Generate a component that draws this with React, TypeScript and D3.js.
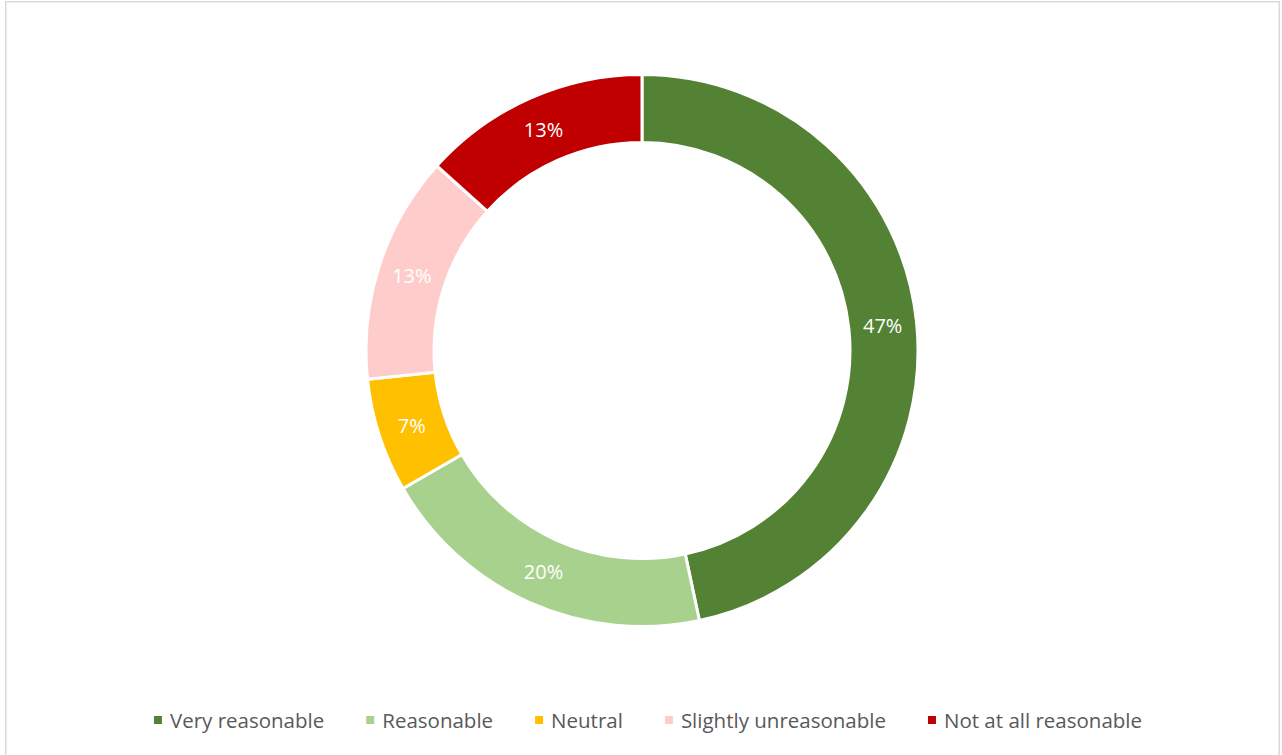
import React, { useEffect, useRef } from "react";
import * as d3 from "d3";

const categories = ["Very reasonable", "Reasonable", "Neutral", "Slightly unreasonable", "Not at all reasonable"];
const values = [7, 3, 1, 2, 2];
const colors = ["#548235", "#A9D18E", "#FFC000", "#FFCCCC", "#C00000"];

const W = 1282;
const H = 755;
const FONT = "'Open Sans', 'Noto Sans', sans-serif";

export default function App() {
  const ref = useRef<SVGSVGElement | null>(null);

  useEffect(() => {
    document.body.style.margin = "0";
    const svg = d3.select(ref.current);
    svg.selectAll("*").remove();

    svg.append("rect")
      .attr("x", 5.75).attr("y", 1.75)
      .attr("width", 1273.5).attr("height", H + 20)
      .attr("fill", "#fff").attr("stroke", "#d9d9d9").attr("stroke-width", 1.5);

    const cx = 642, cy = 350.5;
    const outerR = 276, innerR = 208;
    const total = d3.sum(values);
    const pie = d3.pie<number>().sort(null).value((d) => d).startAngle(0).endAngle(2 * Math.PI);
    const arcs = pie(values);
    const arc = d3.arc<d3.PieArcDatum<number>>().innerRadius(innerR).outerRadius(outerR);

    const g = svg.append("g").attr("transform", `translate(${cx},${cy})`);
    g.selectAll("path.slice").data(arcs).enter().append("path")
      .attr("class", "slice")
      .attr("d", arc as any)
      .attr("fill", (_d, i) => colors[i])
      .attr("stroke", "#fff").attr("stroke-width", 3).attr("stroke-linejoin", "miter");

    const labelArc = d3.arc<d3.PieArcDatum<number>>().innerRadius((innerR + outerR) / 2).outerRadius((innerR + outerR) / 2);
    g.selectAll("text.lbl").data(arcs).enter().append("text")
      .attr("class", "lbl")
      .attr("transform", (d) => `translate(${labelArc.centroid(d)})`)
      .attr("text-anchor", "middle").attr("dominant-baseline", "central")
      .attr("font-family", FONT).attr("font-size", 20).attr("fill", "#fff")
      .text((d) => `${Math.round((d.value / total) * 100)}%`);

    // legend
    const lg = svg.append("g");
    const ly = 720;
    const sq = 8, gapSq = 8, gapItem = 42;
    const items = categories.map((c, i) => {
      const it = lg.append("g");
      it.append("rect").attr("y", ly - sq / 2).attr("width", sq).attr("height", sq).attr("fill", colors[i]);
      const t = it.append("text").attr("x", sq + gapSq).attr("y", ly)
        .attr("dominant-baseline", "central")
        .attr("font-family", FONT).attr("font-size", 20.5).attr("fill", "#595959").text(c);
      const w = (t.node() as SVGTextElement).getComputedTextLength();
      return { it, w: sq + gapSq + w };
    });
    const totalW = d3.sum(items, (d) => d.w) + gapItem * (items.length - 1);
    let x = 648 - totalW / 2;
    items.forEach((d) => {
      d.it.attr("transform", `translate(${x},0)`);
      x += d.w + gapItem;
    });
  }, []);

  return (
    <div style={{ position: "absolute", left: 0, top: 0 }}>
      <svg ref={ref} width={W} height={H} style={{ display: "block" }} />
    </div>
  );
}
